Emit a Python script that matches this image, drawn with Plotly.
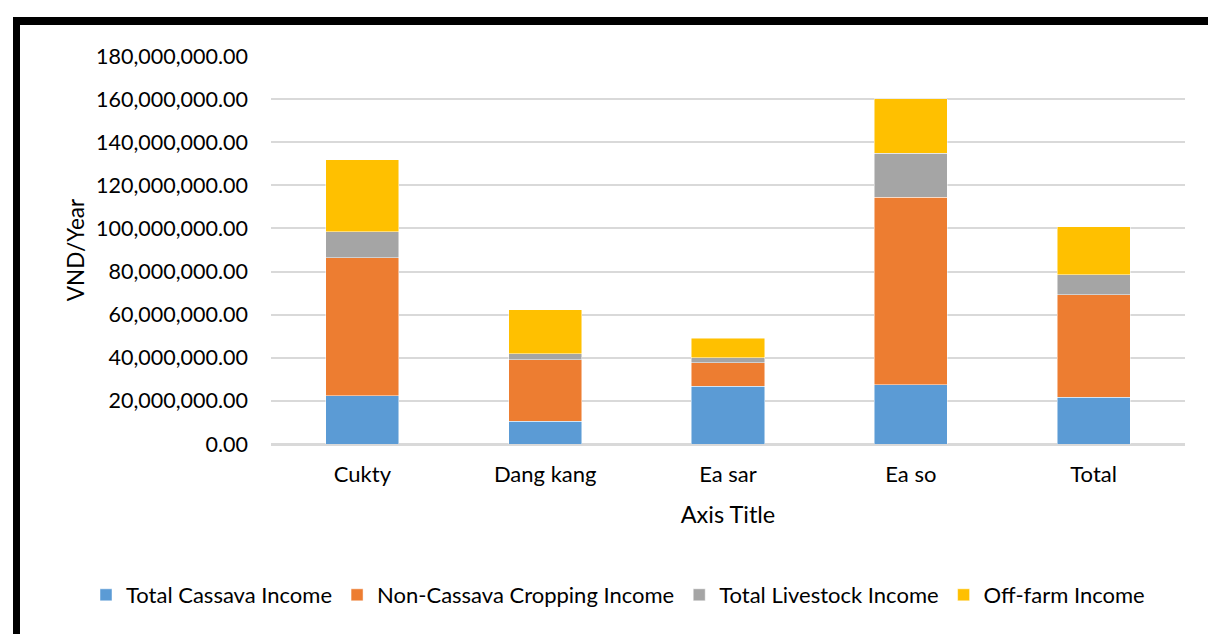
import plotly.graph_objects as go

# Household income by commune (VND per year)
communes = ["Cukty", "Dang kang", "Ea sar", "Ea so", "Total"]
cassava_income = [22.4e6, 10.5e6, 26.8e6, 27.4e6, 21.8e6]
non_cassava_cropping = [64.0e6, 28.6e6, 10.9e6, 87.0e6, 47.5e6]
livestock_income = [12.1e6, 2.8e6, 2.3e6, 20.5e6, 9.2e6]
off_farm_income = [33.3e6, 20.3e6, 9.0e6, 25.2e6, 22.2e6]

y_ticks = [0, 20e6, 40e6, 60e6, 80e6, 100e6, 120e6, 140e6, 160e6, 180e6]

series = [
    ("Total Cassava Income", cassava_income, "#5B9BD5"),
    ("Non-Cassava Cropping Income", non_cassava_cropping, "#ED7D31"),
    ("Total Livestock Income", livestock_income, "#A5A5A5"),
    ("Off-farm Income", off_farm_income, "#FFC000"),
]

FONT = "Lato"
W, H = 1208, 634
ML, MR, MT, MB = 271, 23, 56, 190
PW, PH = W - ML - MR, H - MT - MB

fig = go.Figure()
for name, vals, color in series:
    fig.add_trace(go.Bar(
        name=name, x=communes, y=vals,
        marker=dict(color=color, line=dict(color="rgba(255,255,255,0.6)", width=0.8)),
        width=0.4,
    ))


def px_x(p):
    return (p - ML) / PW


def px_y(p):
    return 1 - (p - MT) / PH


fig.update_layout(
    width=W, height=H,
    margin=dict(l=ML, r=MR, t=MT, b=MB, autoexpand=False),
    barmode="stack",
    plot_bgcolor="white", paper_bgcolor="white",
    font=dict(family=FONT, size=20, color="#000000"),
    showlegend=True,
    legend=dict(
        orientation="h", x=px_x(86), xanchor="left", y=px_y(595), yanchor="middle",
        font=dict(family=FONT, size=22, color="#000000"),
        traceorder="normal", itemwidth=30, bgcolor="rgba(0,0,0,0)",
    ),
    xaxis=dict(
        showgrid=False, showline=True, linecolor="#D9D9D9", linewidth=1.5,
        ticks="", tickfont=dict(family=FONT, size=22), ticklabelstandoff=10,
        title=dict(text="Axis Title", font=dict(family=FONT, size=23.5), standoff=20),
        automargin=False,
    ),
    yaxis=dict(
        range=[0, 180e6], tickvals=y_ticks,
        ticktext=[f"{v:,.2f}" for v in y_ticks],
        showgrid=True, gridcolor="#D9D9D9", gridwidth=1.5,
        zeroline=True, zerolinecolor="#D9D9D9", zerolinewidth=1.5,
        ticks="", tickfont=dict(family=FONT, size=21.5), ticklabelstandoff=22,
        title=dict(text="VND/Year", font=dict(family=FONT, size=22.5), standoff=5),
        automargin=False,
    ),
    shapes=[
        # outer frame (left and top edges)
        dict(type="line", xref="paper", yref="paper",
             x0=px_x(16.5), x1=px_x(16.5), y0=px_y(21), y1=px_y(660),
             line=dict(color="black", width=7)),
        dict(type="line", xref="paper", yref="paper",
             x0=px_x(13), x1=px_x(1230), y0=px_y(21), y1=px_y(21),
             line=dict(color="black", width=8)),
    ],
)

fig.write_html("out.html")
